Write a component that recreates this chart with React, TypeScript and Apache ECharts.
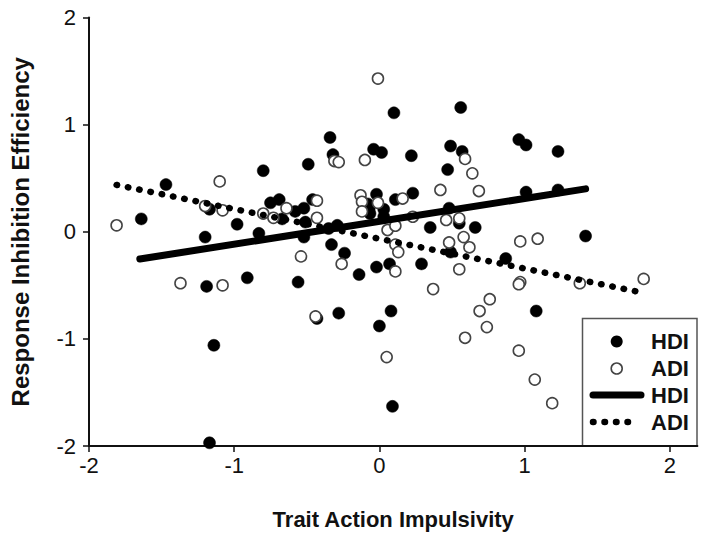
import React, { useEffect, useRef } from "react";
import * as echarts from "echarts";

// HDI participants (filled circles): [trait action impulsivity, response inhibition efficiency]
const hdiPoints: [number, number][] = [
  [-1.64, 0.12], [-1.47, 0.44], [-1.2, -0.05], [-1.17, 0.21], [-0.98, 0.07],
  [-0.83, -0.015], [-0.8, 0.57], [-0.75, 0.27], [-0.69, 0.3], [-0.67, 0.12],
  [-0.58, 0.19], [-0.52, 0.22], [-0.46, 0.3], [-0.51, 0.09], [-0.35, 0.03],
  [-0.29, 0.06], [-0.52, -0.05], [-0.34, 0.88], [-0.32, 0.72], [-0.49, 0.63],
  [-0.04, 0.77], [0.015, 0.74], [0.1, 1.11], [0.56, 1.16], [0.22, 0.71],
  [0.49, 0.8], [0.57, 0.75], [0.47, 0.58], [0.23, 0.36], [0.11, 0.3],
  [-0.02, 0.35], [-0.07, 0.22], [-0.08, 0.26], [-0.065, 0.17], [0.03, 0.21],
  [0.03, 0.14], [0.48, 0.22], [0.55, 0.08], [0.66, 0.04], [0.35, 0.04],
  [-0.33, -0.12], [-0.24, -0.2], [0.49, -0.19], [0.96, 0.86], [1.01, 0.81],
  [1.23, 0.75], [1.01, 0.37], [1.23, 0.39], [1.42, -0.04], [0.87, -0.25],
  [-1.19, -0.51], [-0.91, -0.43], [-1.14, -1.06], [-1.17, -1.97], [-0.56, -0.47],
  [-0.43, -0.81], [-0.28, -0.76], [-0.14, -0.4], [-0.02, -0.33], [0.07, -0.3],
  [0.29, -0.3], [0.08, -0.74], [0.0, -0.88], [0.09, -1.63], [1.08, -0.74],
];

// ADI participants (open circles)
const adiPoints: [number, number][] = [
  [-1.81, 0.06], [-1.2, 0.24], [-1.1, 0.47], [-1.08, 0.2], [-0.8, 0.17],
  [-0.73, 0.13], [-0.64, 0.22], [-0.31, 0.66], [-0.28, 0.65], [-0.1, 0.67],
  [-0.01, 1.43], [0.59, 0.68], [0.64, 0.545], [0.42, 0.39], [0.685, 0.38],
  [0.16, 0.31], [-0.13, 0.34], [-0.12, 0.28], [-0.01, 0.27], [-0.12, 0.19],
  [0.23, 0.14], [0.46, 0.11], [0.55, 0.125], [0.056, 0.016], [0.11, 0.056],
  [0.48, -0.1], [0.58, -0.05], [0.62, -0.145], [0.11, -0.12], [0.13, -0.19],
  [-0.54, -0.23], [-0.43, 0.29], [-0.43, 0.13], [0.97, -0.09], [1.09, -0.065],
  [-1.37, -0.48], [-1.08, -0.5], [-0.44, -0.79], [-0.26, -0.3], [0.11, -0.37],
  [0.55, -0.35], [0.37, -0.535], [0.05, -1.17], [0.59, -0.99], [0.69, -0.74],
  [0.76, -0.63], [0.74, -0.89], [0.97, -0.47], [0.96, -0.49], [0.96, -1.11],
  [1.07, -1.38], [1.19, -1.6], [1.38, -0.48], [1.82, -0.44],
];

// Regression lines
const hdiFitX = [-1.65, 1.42];
const hdiFitY = [-0.255, 0.4];
const adiFitX = [-1.81, 1.78];
const adiFitY = [0.437, -0.56];

const xTicks = [-2, -1, 0, 1, 2];
const yTicks = [-2, -1, 0, 1, 2];
const legendLabels = ["HDI", "ADI", "HDI", "ADI"];

const FONT = '"Liberation Sans", Arial, Helvetica, sans-serif';

export default function App() {
  const ref = useRef<HTMLDivElement>(null);

  useEffect(() => {
    if (!ref.current) return;
    const chart = echarts.init(ref.current, undefined, { renderer: "svg" });

    const lx = 582.5;
    const ly = 318.5;
    const rowY = [341.5, 368.5, 395, 422];

    chart.setOption({
      animation: false,
      backgroundColor: "#ffffff",
      grid: { left: 89, right: 16.6, top: 17.5, bottom: 99, containLabel: false },
      xAxis: {
        type: "value",
        min: -2,
        max: 2.19,
        interval: 1,
        name: "Trait Action Impulsivity",
        nameLocation: "middle",
        nameGap: 62,
        nameTextStyle: { fontFamily: FONT, fontSize: 22, fontWeight: "bold", color: "#111" },
        axisLine: { show: true, onZero: false, lineStyle: { color: "#111", width: 2 } },
        axisTick: { show: true, inside: false, length: 6, customValues: xTicks, lineStyle: { color: "#111", width: 1.5 } },
        axisLabel: { customValues: xTicks, fontFamily: FONT, fontSize: 22, color: "#111", margin: 8 },
        splitLine: { show: false },
      },
      yAxis: {
        type: "value",
        min: -2,
        max: 2,
        interval: 1,
        name: "Response Inhibition Efficiency",
        nameLocation: "middle",
        nameGap: 57,
        nameTextStyle: { fontFamily: FONT, fontSize: 24, fontWeight: "bold", color: "#111" },
        axisLine: { show: true, onZero: false, lineStyle: { color: "#111", width: 2 } },
        axisTick: { show: true, inside: false, length: 6, customValues: yTicks, lineStyle: { color: "#111", width: 1.5 } },
        axisLabel: { customValues: yTicks, fontFamily: FONT, fontSize: 22, color: "#111", margin: 13 },
        splitLine: { show: false },
      },
      series: [
        {
          name: "HDI",
          type: "scatter",
          data: hdiPoints,
          symbol: "circle",
          symbolSize: 12,
          itemStyle: { color: "#000", borderColor: "#000", borderWidth: 0.5, opacity: 1 },
          z: 2,
        },
        {
          name: "ADI",
          type: "scatter",
          data: adiPoints,
          symbol: "circle",
          symbolSize: 11,
          itemStyle: { color: "#fff", borderColor: "#444", borderWidth: 1.6, opacity: 1 },
          z: 3,
        },
        {
          name: "HDI fit",
          type: "line",
          data: hdiFitX.map((x, i) => [x, hdiFitY[i]]),
          symbol: "none",
          lineStyle: { color: "#000", width: 7, cap: "round" },
          z: 4,
        },
        {
          name: "ADI fit",
          type: "line",
          data: adiFitX.map((x, i) => [x, adiFitY[i]]),
          symbol: "none",
          lineStyle: { color: "#000", width: 6.5, type: [0.5, 11], cap: "round" },
          z: 4,
        },
      ],
      graphic: [
        {
          type: "group",
          z: 100,
          children: [
            {
              type: "rect",
              shape: { x: lx, y: ly, width: 114.5, height: 127.5 },
              style: { fill: "#fff", stroke: "#555", lineWidth: 1.5 },
            },
            { type: "circle", shape: { cx: 616.7, cy: rowY[0], r: 6 }, style: { fill: "#000" } },
            { type: "circle", shape: { cx: 616.7, cy: rowY[1], r: 5.5 }, style: { fill: "#fff", stroke: "#444", lineWidth: 1.6 } },
            {
              type: "line",
              shape: { x1: 593, y1: rowY[2], x2: 641, y2: rowY[2] },
              style: { stroke: "#000", lineWidth: 7, lineCap: "round" },
            },
            {
              type: "line",
              shape: { x1: 593, y1: rowY[3], x2: 639, y2: rowY[3] },
              style: { stroke: "#000", lineWidth: 6.5, lineCap: "round", lineDash: [0.5, 11] },
            },
            ...legendLabels.map((t, i) => ({
              type: "text",
              x: 651,
              y: rowY[i],
              style: {
                text: t,
                fontFamily: FONT,
                fontSize: 22,
                fontWeight: "bold",
                fill: "#111",
                textVerticalAlign: "middle",
                verticalAlign: "middle",
              },
            })),
          ],
        },
      ],
    });

    return () => chart.dispose();
  }, []);

  return (
    <div
      ref={ref}
      style={{ position: "fixed", left: 0, top: 0, width: 714, height: 545, background: "#fff" }}
    />
  );
}
